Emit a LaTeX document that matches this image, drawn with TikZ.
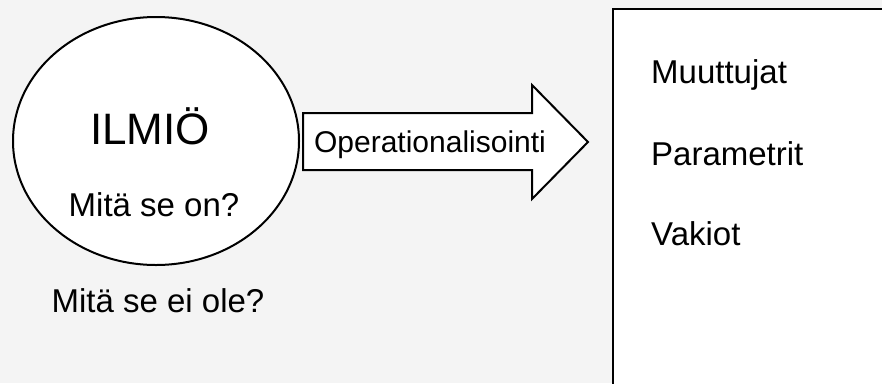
\documentclass[tikz,border=0pt]{standalone}
\usepackage{fontspec}
\setmainfont{Liberation Sans}
\usetikzlibrary{shapes.geometric,positioning}
\definecolor{bggray}{RGB}{244,244,244}
\tikzset{
  outl/.style={draw=black, line width=2pt, fill=white},
  lbl/.style={inner sep=0pt, font=\fontsize{33}{38}\selectfont},
  every picture/.style={line join=miter}
}

\begin{document}
\begin{tikzpicture}[x=1pt,y=-1pt]
  \fill[bggray] (0,0) rectangle (882,383);
  \useasboundingbox (0,0) rectangle (882,383);
  \clip (0,0) rectangle (882,383);

  % phenomenon
  \node[outl, ellipse, minimum width=286pt, minimum height=248pt, inner sep=0pt] (ilmio) at (156,141) {};
  \node[lbl, font=\fontsize{44}{50}\selectfont, anchor=base] (title) at (150,144) {ILMIÖ};
  \node[lbl, anchor=base] (onq) at (154,216) {Mitä se on?};
  \node[lbl, anchor=base] (eiq) at (158,312) {Mitä se ei ole?};

  % block arrow
  \coordinate (tl) at (303,113);
  \coordinate (tip) at (588,142);
  \draw[outl] (tl) -- (532,113) -- (532,85) -- (tip) -- (532,199)
    -- (532,170) -- (303,170) -- cycle;
  \node[lbl, font=\fontsize{30}{34}\selectfont, anchor=base] (oper) at (430,152) {Operationalisointi};

  % model box
  \node[outl, rectangle, minimum width=300pt, minimum height=400pt, anchor=north west] (model) at (612,8) {};
  \node[lbl, anchor=base west] (vars) at (651,83) {Muuttujat};
  \node[lbl, anchor=base west] (pars) at (651,165) {Parametrit};
  \node[lbl, anchor=base west] (consts) at (651,245) {Vakiot};
\end{tikzpicture}
\end{document}
